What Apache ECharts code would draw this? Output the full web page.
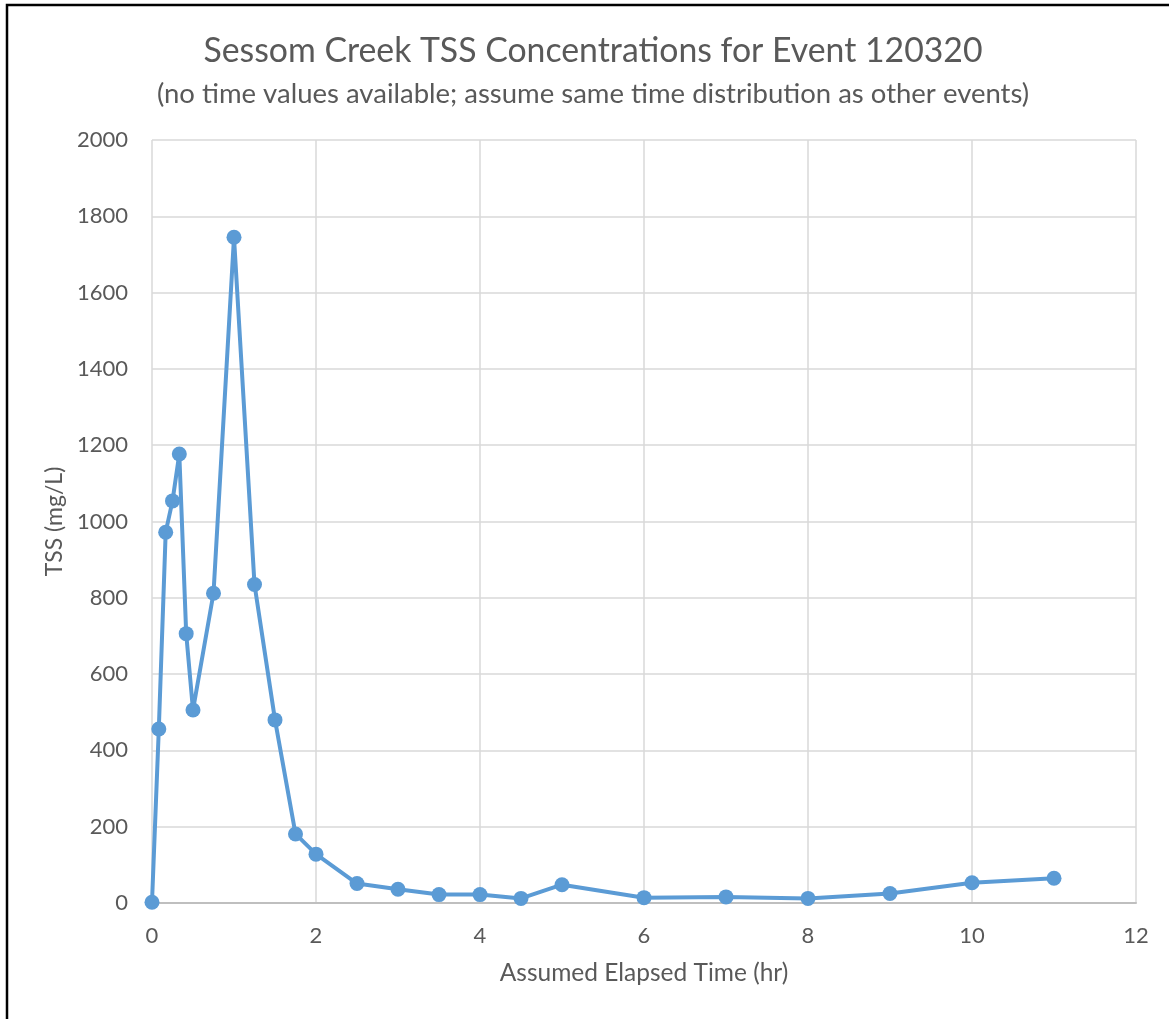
<!DOCTYPE html>
<html>
<head>
<meta charset="utf-8">
<script src="https://cdn.jsdelivr.net/npm/echarts@6/dist/echarts.min.js"></script>
<style>
html,body{margin:0;padding:0;background:#fff;}
#chart{width:1169px;height:1019px;}
</style>
</head>
<body>
<div id="chart"></div>
<script>
const titleText = "Sessom Creek TSS Concentrations for Event 120320";
const subtitleText = "(no time values available; assume same time distribution as other events)";
const xAxisName = "Assumed Elapsed Time (hr)";
const yAxisName = "TSS (mg/L)";
const elapsedHours = [0, 0.083, 0.167, 0.25, 0.333, 0.417, 0.5, 0.75, 1, 1.25, 1.5, 1.75, 2, 2.5, 3, 3.5, 4, 4.5, 5, 6, 7, 8, 9, 10, 11];
const tssValues = [2, 456, 972, 1054, 1177, 706, 506, 812, 1745, 835, 480, 181, 128, 51, 36, 22, 22, 12, 48, 14, 16, 12, 25, 53, 65];

const FONT = "Lato";
const TXT = "#595959";
const chart = echarts.init(document.getElementById('chart'), null, {renderer: 'canvas'});
chart.setOption({
  backgroundColor: '#ffffff',
  animation: false,
  title: [{
    text: titleText,
    left: 588,
    textAlign: 'center',
    top: 29,
    textStyle: {fontFamily: FONT, fontSize: 33.8, fontWeight: 'normal', color: TXT}
  }, {
    text: subtitleText,
    left: 588,
    textAlign: 'center',
    top: 75,
    textStyle: {fontFamily: FONT, fontSize: 27.5, fontWeight: 'normal', color: TXT}
  }],
  graphic: [{
    type: 'rect',
    shape: {x: 7, y: 5, width: 1400, height: 1200},
    style: {fill: 'none', stroke: '#000', lineWidth: 2.5},
    silent: true
  }],
  grid: {left: 152, right: 33, top: 140, bottom: 116, containLabel: false},
  xAxis: {
    type: 'value',
    min: 0, max: 12, interval: 2,
    name: xAxisName,
    nameLocation: 'middle',
    nameGap: 58,
    nameTextStyle: {fontFamily: FONT, fontSize: 24.5, color: TXT},
    axisLine: {show: true, lineStyle: {color: '#bfbfbf', width: 2}},
    axisTick: {show: false},
    axisLabel: {fontFamily: FONT, fontSize: 22, color: TXT, margin: 22, formatter: v => String(v)},
    splitLine: {show: true, lineStyle: {color: '#d9d9d9', width: 1.5}}
  },
  yAxis: {
    type: 'value',
    min: 0, max: 2000, interval: 200,
    name: yAxisName,
    nameLocation: 'middle',
    nameGap: 83,
    nameTextStyle: {fontFamily: FONT, fontSize: 23, color: TXT},
    axisLine: {show: false},
    axisTick: {show: false},
    axisLabel: {fontFamily: FONT, fontSize: 22, color: TXT, margin: 24, formatter: v => String(v)},
    splitLine: {show: true, lineStyle: {color: '#d9d9d9', width: 1.5}}
  },
  series: [{
    type: 'line',
    data: elapsedHours.map((x, i) => [x, tssValues[i]]),
    symbol: 'circle',
    symbolSize: 15,
    lineStyle: {color: '#5b9bd5', width: 4},
    itemStyle: {color: '#5b9bd5'},
    clip: false
  }]
});
</script>
</body>
</html>
